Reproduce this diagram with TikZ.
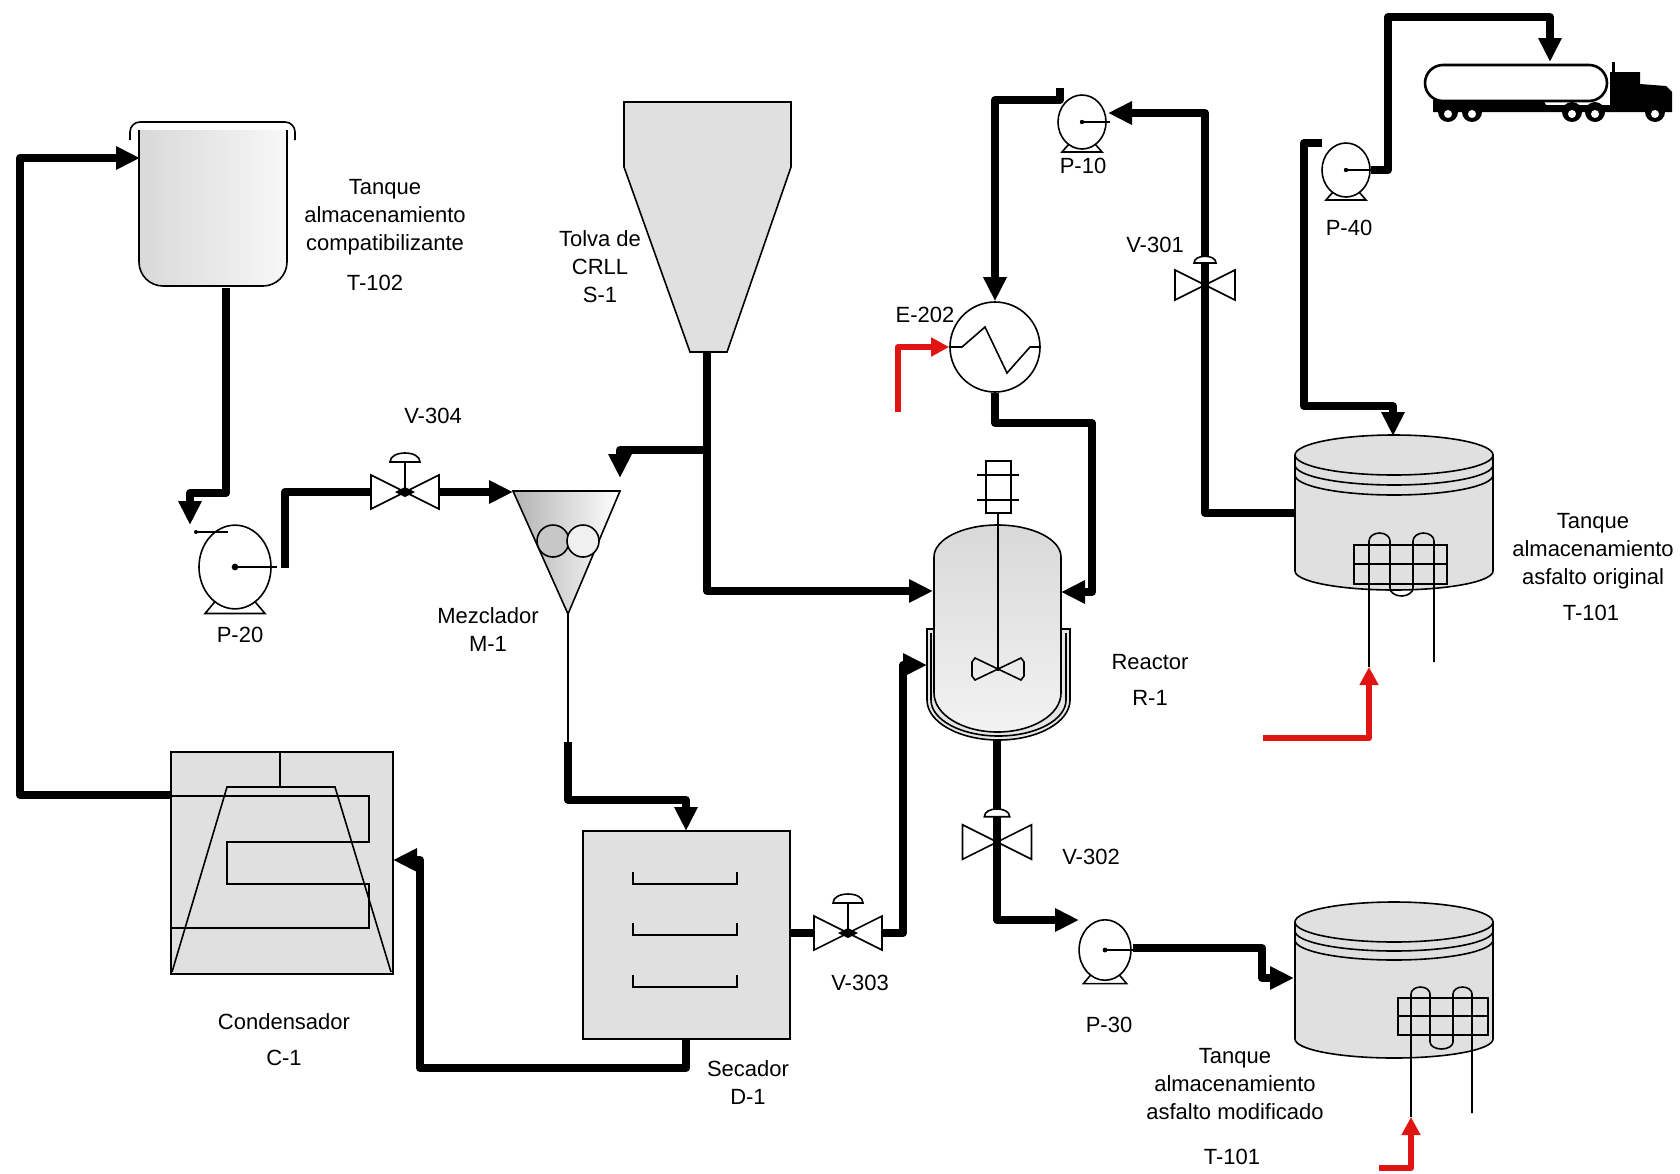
\documentclass[tikz,border=0pt]{standalone}
\usepackage{fontspec}
\setmainfont{Liberation Sans}
\usetikzlibrary{arrows.meta}
\definecolor{hotred}{RGB}{225,20,20}
\begin{document}
\begin{tikzpicture}[x=0.5pt,y=-0.5pt,
  pipe/.style={line width=4pt, line join=round},
  flow/.style={pipe, -{Triangle[length=12pt,width=11pt]}},
  heat/.style={line width=3pt, color=hotred, line join=round, -{Triangle[length=9pt,width=9pt]}},
  ln/.style={line width=0.8pt},
  unit/.style={ln, fill=black!12},
  lbl/.style={font=\fontsize{11}{14}\selectfont, align=center, inner sep=0pt},
  pics/pumpsym/.style={code={
    \draw[ln, fill=white] (0,0) ellipse [x radius=24, y radius=27];
    \draw[ln] (-13,22) -- (-20,30) -- (20,30) -- (13,22);
    \draw[ln] (0,0) -- (28,0);
    \fill (0,0) circle [radius=2.2];
  }},
  pics/ctrlvalve/.style={code={
    \draw[ln] (-34,-17) -- (-34,17) -- (34,-17) -- (34,17) -- cycle;
    \fill (-10,0) -- (0,-5) -- (10,0) -- (0,5) -- cycle;
    \draw[ln] (0,0) -- (0,-30);
    \draw[ln, fill=white] (-15,-30) .. controls (-15,-42) and (15,-42) .. (15,-30) -- cycle;
  }},
  pics/handvalve/.style={code={
    \draw[ln] (-30,-15) -- (-30,15) -- (30,-15) -- (30,15) -- cycle;
    \draw[ln, fill=white] (-11,-22) .. controls (-11,-31) and (11,-31) .. (11,-22) -- cycle;
  }},
]
\useasboundingbox (0,0) rectangle (1680,1173);
\fill[white] (0,0) rectangle (1680,1173);

% ---------- T-102 storage tank ----------
\shadedraw[ln, left color=black!15, right color=black!3, rounded corners=12]
  (139,130) -- (139,286) -- (287,286) -- (287,130);
\draw[ln, rounded corners=5] (130,140) -- (130,122) -- (295,122) -- (295,140);

% ---------- S-1 hopper ----------
\filldraw[unit] (624,102) -- (791,102) -- (791,167) -- (727,352) -- (690,352) -- (624,167) -- cycle;

% ---------- M-1 mixer ----------
\shadedraw[ln, left color=black!30, right color=white] (513,491) -- (620,491) -- (568,614) -- cycle;
\draw[ln, fill=black!22] (553,541) circle [radius=16];
\draw[ln, fill=black!6] (583,541) circle [radius=16];

% ---------- C-1 condenser ----------
\filldraw[unit] (171,752) rectangle (393,974);
\draw[ln] (280,752) -- (280,787);
\draw[ln] (172,972) -- (227,787) -- (335,787) -- (391,972);
\draw[ln] (171,796) -- (369,796) -- (369,842) -- (227,842) -- (227,884) -- (369,884) -- (369,928) -- (171,928);

% ---------- D-1 dryer ----------
\filldraw[unit] (583,831) rectangle (790,1039);
\foreach \ty in {884,935,987}
  \draw[ln] (633,\ty-12) -- (633,\ty) -- (737,\ty) -- (737,\ty-12);

% ---------- R-1 reactor ----------
\filldraw[ln, fill=black!10] (934,629) -- (927,629) -- (927,700)
  arc[start angle=180, end angle=0, x radius=71.5, y radius=40] -- (1070,629) -- (1061,629);
\draw[ln] (931,633) -- (931,700)
  arc[start angle=180, end angle=0, x radius=67.5, y radius=36] -- (1066,633);
\shadedraw[ln, top color=black!15, bottom color=black!5]
  (934,557) arc[start angle=180, end angle=360, x radius=63.5, y radius=32]
  -- (1061,693) arc[start angle=0, end angle=180, x radius=63.5, y radius=39] -- cycle;
\draw[ln, fill=white] (986,461) rectangle (1011,513);
\draw[ln] (977,475) -- (1019,475) (977,500) -- (1019,500);
\draw[ln] (998,513) -- (998,669);
\draw[ln] (998,669) -- (975,658) -- (972,662) -- (972,676) -- (975,680) -- cycle;
\draw[ln] (998,669) -- (1021,658) -- (1024,662) -- (1024,676) -- (1021,680) -- cycle;
\fill (998,669) circle [radius=2];

% ---------- E-202 heat exchanger ----------
\node (E202) [circle, draw, line width=0.8pt, fill=white, minimum size=45pt, inner sep=0pt] at (995,347) {};
\draw[ln] (E202.west) -- (962,347) -- (985,327) -- (1007,373) -- (1030,347) -- (E202.east);

% ---------- T-101 tank (original asphalt) ----------
\filldraw[unit] (1295,455) -- (1295,571)
  arc[start angle=180, end angle=0, x radius=99, y radius=19] -- (1493,455) -- cycle;
\filldraw[unit] (1394,455) ellipse [x radius=99, y radius=20];
\draw[ln] (1295,465) arc[start angle=180, end angle=0, x radius=99, y radius=20];
\draw[ln] (1295,475) arc[start angle=180, end angle=0, x radius=99, y radius=20];
\draw[ln] (1354,545) rectangle (1447,584);
\draw[ln] (1354,564) -- (1447,564);
\draw[ln] (1369,667) -- (1369,541)
  arc[start angle=180, end angle=360, x radius=10.5, y radius=8] -- (1390,588)
  arc[start angle=180, end angle=0, x radius=11.5, y radius=8] -- (1413,541)
  arc[start angle=180, end angle=360, x radius=10.5, y radius=8] -- (1434,662);
\coordinate (T101aheat) at (1369,667);

% ---------- T-101 tank (modified asphalt) ----------
\filldraw[unit] (1295,922) -- (1295,1039)
  arc[start angle=180, end angle=0, x radius=99, y radius=19] -- (1493,922) -- cycle;
\filldraw[unit] (1394,922) ellipse [x radius=99, y radius=20];
\draw[ln] (1295,931) arc[start angle=180, end angle=0, x radius=99, y radius=20];
\draw[ln] (1295,940) arc[start angle=180, end angle=0, x radius=99, y radius=20];
\draw[ln] (1398,998) rectangle (1488,1035);
\draw[ln] (1398,1016) -- (1488,1016);
\draw[ln] (1411,1117) -- (1411,994)
  arc[start angle=180, end angle=360, x radius=9.5, y radius=7] -- (1430,1042)
  arc[start angle=180, end angle=0, x radius=11.5, y radius=7] -- (1453,994)
  arc[start angle=180, end angle=360, x radius=9.5, y radius=7] -- (1472,1113);
\coordinate (T101bheat) at (1411,1117);

% ---------- tank truck ----------
\draw[line width=1.3pt, fill=white, rounded corners=9] (1425,65) rectangle (1607,101);
\fill (1433,100) -- (1543,100) -- (1546,105) -- (1610,105) -- (1610,112) -- (1433,112) -- cycle;
\fill (1610,72) -- (1640,72) -- (1640,84) -- (1666,86) -- (1672,92) -- (1672,112) -- (1610,112) -- cycle;
\draw[line width=1.5pt] (1613,62) -- (1613,80);
\foreach \wx in {1448,1472,1572,1595,1655} {
  \fill (\wx,112) circle [radius=10];
  \fill[white] (\wx,114) circle [radius=4];
}
\coordinate (Truck) at (1550,62);

% ---------- ports ----------
\coordinate (T102in) at (140,158);
\coordinate (T102out) at (226,288);
\coordinate (P20in) at (190,525);
\coordinate (P20out) at (285,568);
\coordinate (V304w) at (371,492);
\coordinate (V304e) at (439,492);
\coordinate (M1in) at (513,492);
\coordinate (M1apex) at (568,614);
\coordinate (M1drop) at (568,742);
\coordinate (M1top) at (620,478);
\coordinate (S1out) at (707,352);
\coordinate (S1split) at (707,450);
\coordinate (D1in) at (686,831);
\coordinate (D1out) at (686,1039);
\coordinate (D1e) at (790,933);
\coordinate (C1w) at (171,795);
\coordinate (C1e) at (393,860);
\coordinate (V303w) at (815,933);
\coordinate (V303e) at (881,933);
\coordinate (R1w) at (933,591);
\coordinate (R1e) at (1061,592);
\coordinate (R1jk) at (927,665);
\coordinate (R1bot) at (997,740);
\coordinate (P30in) at (1079,920);
\coordinate (P30out) at (1133,948);
\coordinate (T101bin) at (1294,978);
\coordinate (T101aw) at (1295,513);
\coordinate (T101atop) at (1393,436);
\coordinate (P10in) at (1108,113);
\coordinate (P10out) at (1060,88);
\coordinate (P40in) at (1322,143);
\coordinate (P40out) at (1371,170);
\coordinate (E202hot) at (898,412);
\coordinate (T101ahot) at (1263,738);
\coordinate (T101bhot) at (1379,1168);

% ---------- process lines ----------
\draw[flow] (C1w) -- (20,795) |- (T102in);
\draw[flow] (T102out) |- (190,493) -- (P20in);
\draw[pipe] (P20out) |- (V304w);
\draw[flow] (V304e) -- (M1in);
\draw[flow] (S1out) |- (R1w);
\draw[flow] (S1split) -| (M1top);
\draw[ln] (M1apex) -- (M1drop);
\draw[flow] (M1drop) -- (568,800) -| (D1in);
\draw[flow] (D1out) -- (686,1068) -| (420,860) -- (C1e);
\draw[pipe] (D1e) -- (V303w);
\draw[flow] (V303e) -| (903,665) -- (R1jk);
\draw[flow] (R1bot) |- (P30in);
\draw[flow] (P30out) -| (1262,978) -- (T101bin);
\draw[flow] (T101aw) -| (1205,113) -- (P10in);
\draw[flow] (P10out) -- (1060,100) -| (E202.north);
\draw[flow] (E202.south) -- (995,423) -| (1092,592) -- (R1e);
\draw[flow] (P40in) -- (1304,143) |- (1393,406) -- (T101atop);
\draw[flow] (P40out) -- (1388,170) |- (1550,17) -- (Truck);

% ---------- heating medium ----------
\draw[heat] (E202hot) |- (E202.west);
\draw[heat] (T101ahot) -| (T101aheat);
\draw[heat] (T101bhot) -| (T101bheat);

% ---------- valves ----------
\pic at (405,492) {ctrlvalve};
\pic at (848,933) {ctrlvalve};
\pic at (1205,285) {handvalve};
\pic[scale=1.15] at (997,842) {handvalve};

% ---------- pumps ----------
\pic[xscale=1.5, yscale=1.55] at (235,567) {pumpsym};
\draw[ln] (196,532) -- (228,532);
\fill (196,532) circle [radius=2];
\pic at (1082,122) {pumpsym};
\pic at (1346,170) {pumpsym};
\pic[xscale=1.08, yscale=1.12] at (1105,950) {pumpsym};

% ---------- labels ----------
\node[lbl] (lT102) at (385,217) {Tanque\\almacenamiento\\compatibilizante};
\node[lbl] (tT102) at (375,283) {T-102};
\node[lbl] (tV304) at (433,416) {V-304};
\node[lbl] (lS1) at (600,267) {Tolva de\\CRLL\\S-1};
\node[lbl] (lM1) at (488,630) {Mezclador\\M-1};
\node[lbl] (tP20) at (240,635) {P-20};
\node[lbl] (lC1) at (284,1040) {Condensador\\[4pt]C-1};
\node[lbl] (lD1) at (748,1083) {Secador\\D-1};
\node[lbl] (tV303) at (860,983) {V-303};
\node[lbl] (tV302) at (1091,857) {V-302};
\node[lbl] (tP30) at (1109,1025) {P-30};
\node[lbl] (lR1) at (1150,680) {Reactor\\[4pt]R-1};
\node[lbl] (tE202) at (925,315) {E-202};
\node[lbl] (tP10) at (1083,166) {P-10};
\node[lbl] (tV301) at (1155,245) {V-301};
\node[lbl] (tP40) at (1349,228) {P-40};
\node[lbl] (lT101a) at (1593,551) {Tanque\\almacenamiento\\asfalto original};
\node[lbl] (tT101a) at (1591,613) {T-101};
\node[lbl] (lT101b) at (1235,1084) {Tanque\\almacenamiento\\asfalto modificado};
\node[lbl] (tT101b) at (1232,1157) {T-101};
\end{tikzpicture}
\end{document}
